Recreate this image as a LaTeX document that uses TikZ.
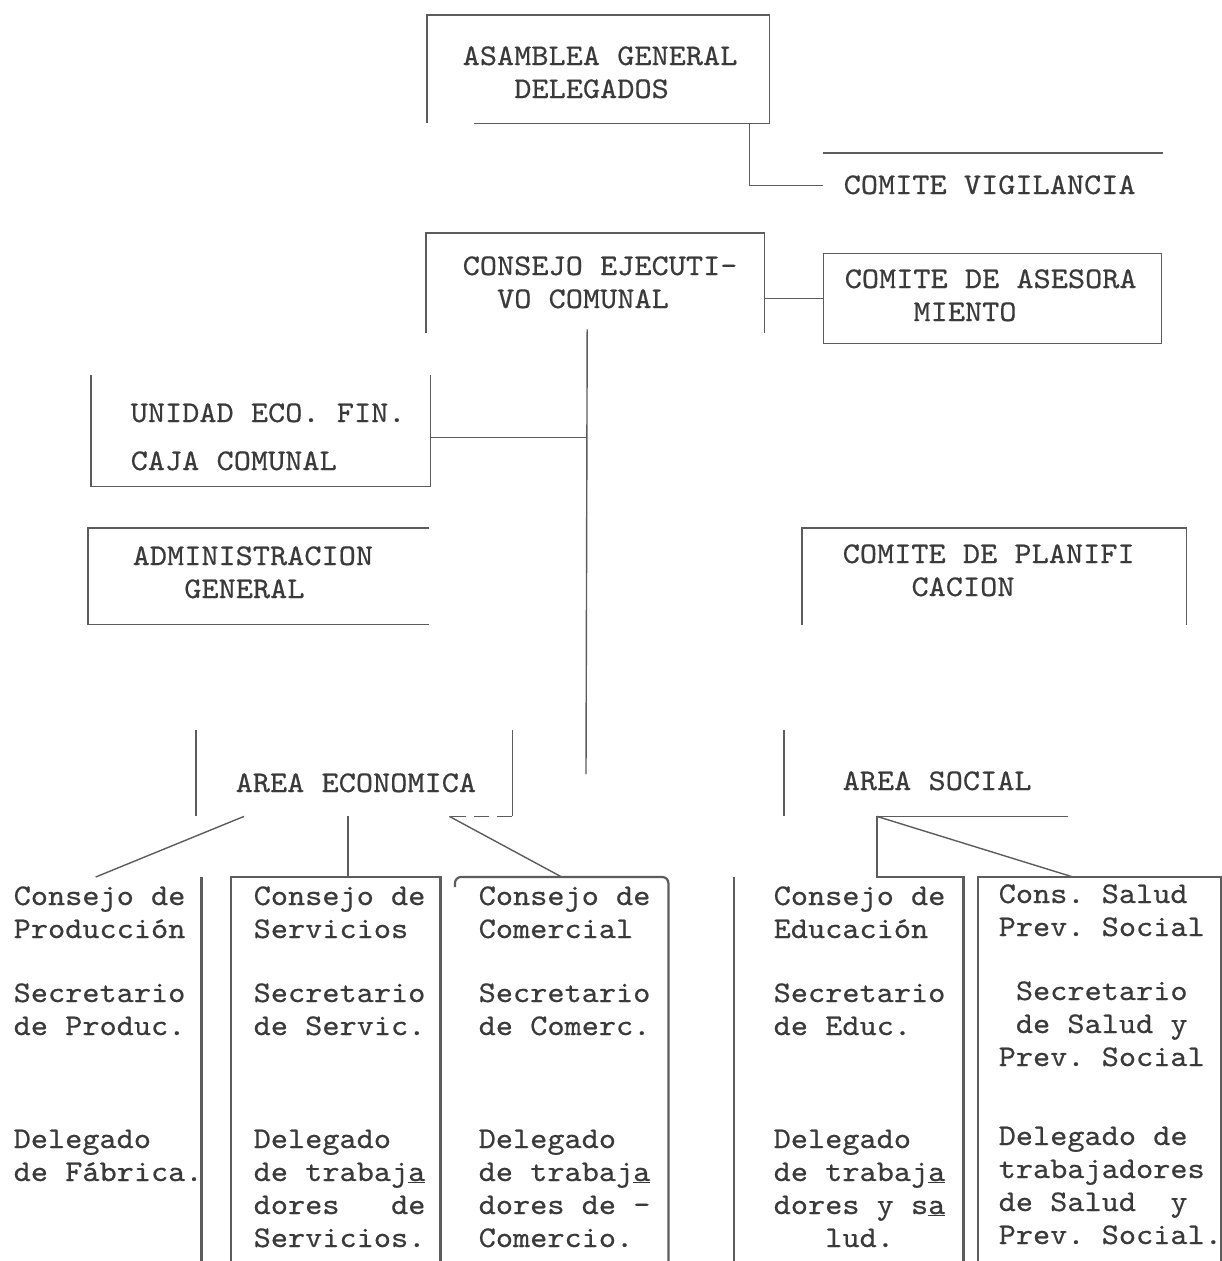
\documentclass[tikz,border=0pt]{standalone}
\usepackage{fontspec}
\newfontfamily\typewriter[FakeStretch=1.09, FakeBold=0.5]{lmmono10-regular.otf}
\usepackage{tikz}
\usetikzlibrary{positioning}
\definecolor{ink}{HTML}{3A3A3A}
\definecolor{rule}{HTML}{5C5C5C}
\newlength\charstep
\setlength\charstep{17.2pt}
\newcommand\typedfont{\typewriter\fontsize{30}{33}\selectfont}
\newcommand\fixspaces{\frenchspacing\spaceskip=\charstep\relax\xspaceskip=\charstep\relax}
\newcommand\skipcols[1]{\hspace*{#1\charstep}}
\tikzstyle{panel} = [rectangle, inner sep=0pt, anchor=north west]
\tikzstyle{typed} = [font=\typedfont, text=ink, execute at begin node=\fixspaces,
    inner sep=0pt, anchor=base west, text width=340pt, align=left]
\tikzstyle{column} = [typed, text width=240pt]
\tikzstyle{colframe} = [line width=2.2pt]

\begin{document}
\begin{tikzpicture}[x=1pt, y=-1pt, line width=1.4pt, color=rule]
    \useasboundingbox (0,0) rectangle (1222,1261);
    % top
    \node [panel, minimum width=341pt, minimum height=107pt] (asm) at (427,15) {};
    \draw ([xshift=47pt]asm.south west) -- (asm.south east) -- (asm.north east) -- (asm.north west) -- (asm.south west);
    \node [typed] (asmText) at (462,65) {ASAMBLEA GENERAL\\\skipcols{3}DELEGADOS};
    \node [panel, minimum width=339pt, minimum height=64pt] (vig) at (823,153) {};
    \draw (vig.north west) -- (vig.north east);
    \node [typed] (vigText) at (843,194) {COMITE VIGILANCIA};
    \draw ([xshift=-20pt]asm.south east) |- (vig.west);

    \node [panel, minimum width=337pt, minimum height=99pt] (cej) at (426,233) {};
    \draw (cej.south west) -- (cej.north west) -- (cej.north east) -- (cej.south east);
    \node [typed] (cejText) at (462,275) {CONSEJO EJECUTI-\\\skipcols{2}VO COMUNAL};
    \node [panel, draw, minimum width=338pt, minimum height=90pt] (ase) at (823,253) {};
    \node [typed] (aseText) at (844,288) {COMITE DE ASESORA\\\skipcols{4}MIENTO};
    \draw (cej.east |- ase.west) -- (ase.west);

    \coordinate (trunk) at ([xshift=-8pt,yshift=4pt]cej.south);
    \coordinate (trunkEnd) at (586,774);
    \draw (trunk) -- (trunkEnd);

    % left side
    \node [panel, minimum width=338pt, minimum height=110pt] (uef) at (91,375) {};
    \draw (uef.north west) -- (uef.south west) -- (uef.south east) -- (uef.north east);
    \node [typed] (uefText) at (130,422) {UNIDAD ECO. FIN.\\[15pt]CAJA COMUNAL};
    \coordinate (uefJoin) at ([yshift=-7pt]uef.east);
    \draw (uefJoin) -- (uefJoin -| trunk);

    \node [panel, minimum width=340pt, minimum height=95pt] (adm) at (88,528) {};
    \draw (adm.north east) -- (adm.north west) -- (adm.south west) -- (adm.south east);
    \node [typed] (admText) at (132,565) {ADMINISTRACION\\\skipcols{3}GENERAL};

    % right side
    \node [panel, minimum width=383pt, minimum height=96pt] (pla) at (802,528) {};
    \draw (pla.south west) -- (pla.north west) -- (pla.north east) -- (pla.south east);
    \node [typed] (plaText) at (842,563) {COMITE DE PLANIFI\\\skipcols{4}CACION};

    % areas
    \node [panel, minimum width=315pt, minimum height=85pt] (aec) at (196,730) {};
    \draw (aec.north west) -- (aec.south west);
    \draw (aec.north east) -- (aec.south east);
    \draw [dash pattern=on 15pt off 8pt] (aec.south east) -- ([xshift=-64pt]aec.south east);
    \node [typed] (aecText) at (235,792) {AREA ECONOMICA};

    \node [panel, minimum width=283pt, minimum height=85pt] (aso) at (784,730) {};
    \draw (aso.north west) -- (aso.south west);
    \node [typed] (asoText) at (842,790) {AREA SOCIAL};

    % columns
    \node [panel, minimum width=200pt, minimum height=384pt] (pro) at (0,877) {};
    \node [panel, minimum width=208pt, minimum height=384pt] (ser) at (231,877) {};
    \node [panel, minimum width=212pt, minimum height=384pt] (com) at (455,877) {};
    \node [panel, minimum width=228pt, minimum height=384pt] (edu) at (734,877) {};
    \node [panel, minimum width=242pt, minimum height=384pt] (sal) at (978,877) {};
    \draw [colframe] (pro.north east) -- (pro.south east);
    \draw [colframe] (ser.south west) -- (ser.north west) -- (ser.north east) -- (ser.south east);
    \draw [colframe, rounded corners=6pt] ([yshift=-10pt]com.north west) -- (com.north west) -- (com.north east) -- (com.south east);
    \draw [colframe] (edu.north west) -- (edu.south west);
    \draw [colframe] (sal.south west) -- (sal.north west) -- (sal.north east) -- (sal.south east);

    % economic links
    \draw ([xshift=48pt]aec.south west) -- ([xshift=-5pt]pro.north);
    \draw [colframe] ([xshift=-6pt]aec.south) -- ([xshift=-6pt]aec.south |- ser.north);
    \draw ([xshift=-63pt]aec.south east) -- (com.north);

    % social links
    \coordinate (socJoin) at ([xshift=93pt]aso.south west);
    \draw (aso.south east) -- (socJoin);
    \draw [colframe] (socJoin) -- (socJoin |- edu.north) -- (edu.north east) -- (edu.south east);
    \draw (socJoin) -- ([xshift=95pt]sal.north west);

    % column texts
    \node [column] (proA) at (13,905) {Consejo de\\Producción};
    \node [column] (proB) at (13,1002) {Secretario\\de Produc.};
    \node [column] (proC) at (13,1148) {Delegado\\de Fábrica.};

    \node [column] (serA) at (253,905) {Consejo de\\Servicios};
    \node [column] (serB) at (253,1002) {Secretario\\de Servic.};
    \node [column] (serC) at (253,1148) {Delegado\\de trabaj\underline{a}\\dores\skipcols{3}de\\Servicios.};

    \node [column] (comA) at (478,905) {Consejo de\\Comercial};
    \node [column] (comB) at (478,1002) {Secretario\\de Comerc.};
    \node [column] (comC) at (478,1148) {Delegado\\de trabaj\underline{a}\\dores de -\\Comercio.};

    \node [column] (eduA) at (773,905) {Consejo de\\Educación};
    \node [column] (eduB) at (773,1002) {Secretario\\de Educ.};
    \node [column] (eduC) at (773,1148) {Delegado\\de trabaj\underline{a}\\dores y s\underline{a}\\\skipcols{3}lud.};

    \node [column] (salA) at (998,903) {Cons. Salud\\Prev. Social};
    \node [column] (salB) at (998,1000) {\skipcols{1}Secretario\\\skipcols{1}de Salud y\\Prev. Social};
    \node [column] (salC) at (998,1145) {Delegado de\\trabajadores\\de Salud\skipcols{2}y\\Prev. Social.};
\end{tikzpicture}
\end{document}
